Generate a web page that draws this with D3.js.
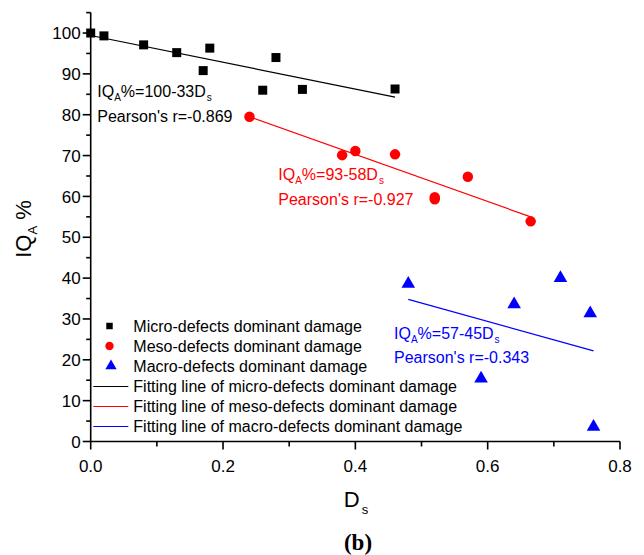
<!DOCTYPE html>
<html>
<head>
<meta charset="utf-8">
<script src="https://cdn.jsdelivr.net/npm/d3@7"></script>
<style>
  html, body { margin: 0; padding: 0; background: #fff; }
  svg { display: block; }
  text { font-family: "Liberation Sans", Arial, sans-serif; }
</style>
</head>
<body>
<svg id="chart" width="644" height="555"></svg>
<script>
// ---- data ----
const microD  = [0, 0.02, 0.08, 0.13, 0.17, 0.18, 0.26, 0.28, 0.32, 0.46];
const microIQ = [100, 99.3, 97.1, 95.2, 90.8, 96.3, 86.0, 94.0, 86.2, 86.3];
const mesoD   = [0.24, 0.38, 0.40, 0.46, 0.52, 0.52, 0.57, 0.665];
const mesoIQ  = [79.5, 70.1, 71.1, 70.3, 59.8, 59.3, 64.8, 53.9];
const macroD  = [0.48, 0.59, 0.64, 0.71, 0.755, 0.76];
const macroIQ = [38.6, 15.4, 33.6, 40.0, 31.4, 3.6];

// fitting line end points [D, IQ]
const microFit = [[0, 99.4], [0.46, 84.3]];
const mesoFit  = [[0.24, 79.5], [0.665, 55.0]];
const macroFit = [[0.48, 34.8], [0.76, 22.2]];

const xTicks = [0, 0.2, 0.4, 0.6, 0.8];
const xMinor = [0.1, 0.3, 0.5, 0.7];
const yTicks = [0, 10, 20, 30, 40, 50, 60, 70, 80, 90, 100];
const yMinor = [5, 15, 25, 35, 45, 55, 65, 75, 85, 95, 105];

const legendLabels = [
  "Micro-defects dominant damage",
  "Meso-defects dominant damage",
  "Macro-defects dominant damage",
  "Fitting line of micro-defects dominant damage",
  "Fitting line of meso-defects dominant damage",
  "Fitting line of macro-defects dominant damage"
];
const equations = [
  {eq: ["IQ", "A", "%=100-33D", "s"], r: "Pearson's r=-0.869"},
  {eq: ["IQ", "A", "%=93-58D", "s"], r: "Pearson's r=-0.927"},
  {eq: ["IQ", "A", "%=57-45D", "s"], r: "Pearson's r=-0.343"}
];
const colors = ["#000000", "#ff0000", "#0000ff"];

// ---- layout ----
const svg = d3.select("#chart");
const x = d3.scaleLinear().domain([0, 0.8]).range([90.7, 620]);
const y = d3.scaleLinear().domain([0, 105]).range([441.5, 12.6]);

// axes
const xAxis = svg.append("g").attr("transform", `translate(0,${y(0)})`);
xAxis.append("line").attr("x1", x(0)).attr("x2", x(0.8)).attr("stroke", "#000").attr("stroke-width", 1.6);
xAxis.selectAll(".maj").data(xTicks).join("line")
  .attr("x1", d => x(d)).attr("x2", d => x(d)).attr("y1", 0).attr("y2", 8)
  .attr("stroke", "#000").attr("stroke-width", 1.6);
xAxis.selectAll(".min").data(xMinor).join("line")
  .attr("x1", d => x(d)).attr("x2", d => x(d)).attr("y1", 0).attr("y2", 5)
  .attr("stroke", "#000").attr("stroke-width", 1.6);
xAxis.selectAll("text").data(xTicks).join("text")
  .attr("x", d => x(d)).attr("y", 30).attr("text-anchor", "middle")
  .attr("font-size", 17).text(d => d.toFixed(1));

const yAxis = svg.append("g").attr("transform", `translate(${x(0)},0)`);
yAxis.append("line").attr("y1", y(0)).attr("y2", y(105)).attr("stroke", "#000").attr("stroke-width", 1.6);
yAxis.selectAll(".maj").data(yTicks).join("line")
  .attr("y1", d => y(d)).attr("y2", d => y(d)).attr("x1", 0).attr("x2", -8)
  .attr("stroke", "#000").attr("stroke-width", 1.6);
yAxis.selectAll(".min").data(yMinor).join("line")
  .attr("y1", d => y(d)).attr("y2", d => y(d)).attr("x1", 0).attr("x2", -4.5)
  .attr("stroke", "#000").attr("stroke-width", 1.6);
yAxis.selectAll("text").data(yTicks).join("text")
  .attr("x", -10).attr("y", d => y(d)).attr("dy", "0.36em").attr("text-anchor", "end")
  .attr("font-size", 17).text(d => d);

// axis titles
const yt = svg.append("text").attr("transform", "translate(31,229) rotate(-90)")
  .attr("text-anchor", "middle").attr("font-size", 22);
yt.append("tspan").text("IQ");
yt.append("tspan").attr("font-size", 13).attr("dy", 6).text("A");
yt.append("tspan").attr("dy", -6).text(" %");

const xt = svg.append("text").attr("x", 356).attr("y", 506.5)
  .attr("text-anchor", "middle").attr("font-size", 22);
xt.append("tspan").text("D");
xt.append("tspan").attr("font-size", 13).attr("dy", 7).attr("dx", 2).text("s");

svg.append("text").attr("x", 358).attr("y", 549.5).attr("text-anchor", "middle")
  .style("font-family", "'Liberation Serif', 'Times New Roman', serif")
  .attr("font-weight", "bold").attr("font-size", 23).text("(b)");

// fitting lines
const line = d3.line().x(d => x(d[0])).y(d => y(d[1]));
[microFit, mesoFit, macroFit].forEach((f, i) => {
  svg.append("path").attr("d", line(f)).attr("fill", "none")
    .attr("stroke", colors[i]).attr("stroke-width", 1.2);
});

// markers
const sq = d3.symbol().type(d3.symbolSquare).size(81);
const ci = d3.symbol().type(d3.symbolCircle).size(86);
const tri = d3.symbol().type(d3.symbolTriangle).size(80);

svg.append("g").selectAll("path").data(microD.map((d, i) => [d, microIQ[i]])).join("path")
  .attr("d", sq).attr("transform", d => `translate(${x(d[0])},${y(d[1])})`).attr("fill", colors[0]);
svg.append("g").selectAll("path").data(mesoD.map((d, i) => [d, mesoIQ[i]])).join("path")
  .attr("d", ci).attr("transform", d => `translate(${x(d[0])},${y(d[1])})`).attr("fill", colors[1]);
svg.append("g").selectAll("path").data(macroD.map((d, i) => [d, macroIQ[i]])).join("path")
  .attr("d", tri).attr("transform", d => `translate(${x(d[0])},${y(d[1])})`).attr("fill", colors[2]);

// equation annotations
const eqPos = [[97.3, 96.7, 121.7], [278.3, 180, 205], [394, 339, 363]];
equations.forEach((e, i) => {
  const [tx, y1, y2] = eqPos[i];
  const t = svg.append("text").attr("x", tx).attr("y", y1).attr("font-size", 16).attr("fill", colors[i]);
  t.append("tspan").text(e.eq[0]);
  t.append("tspan").attr("font-size", 10).attr("dy", 4).text(e.eq[1]);
  t.append("tspan").attr("dy", -4).text(e.eq[2]);
  t.append("tspan").attr("font-size", 10).attr("dy", 4).attr("dx", 1).text(e.eq[3]);
  svg.append("text").attr("x", tx).attr("y", y2).attr("font-size", 16).attr("fill", colors[i]).text(e.r);
});

// legend
const lg = svg.append("g");
const legTextX = 133.3, legY0 = 326, legStep = 20;
legendLabels.forEach((lab, i) => {
  const cy = legY0 + i * legStep;
  if (i < 3) {
    const sym = [d3.symbol().type(d3.symbolSquare).size(42),
                 d3.symbol().type(d3.symbolCircle).size(55),
                 d3.symbol().type(d3.symbolTriangle).size(55)][i];
    lg.append("path").attr("d", sym).attr("transform", `translate(${i === 2 ? 111 : 109.5},${cy})`).attr("fill", colors[i]);
  } else {
    lg.append("line").attr("x1", 93.3).attr("x2", 128.3).attr("y1", cy + 0.5).attr("y2", cy + 0.5)
      .attr("stroke", colors[i - 3]).attr("stroke-width", 1.2);
  }
  lg.append("text").attr("x", legTextX).attr("y", cy + 5.8).attr("font-size", 16).text(lab);
});
</script>
</body>
</html>
